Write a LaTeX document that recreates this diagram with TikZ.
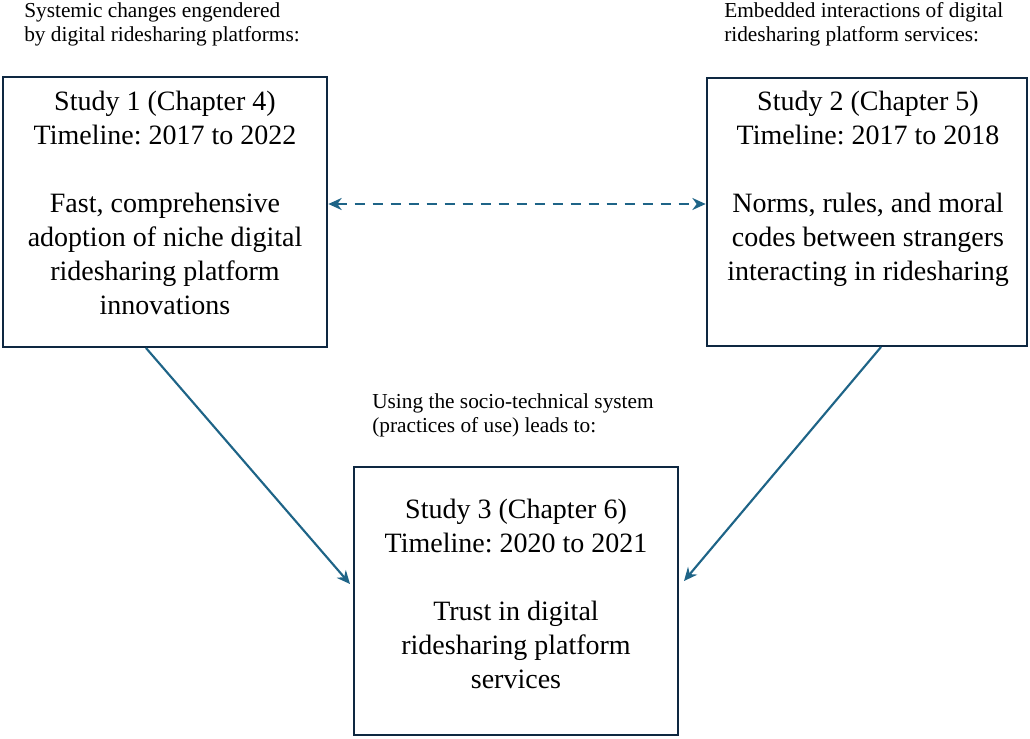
\documentclass[tikz,border=0pt]{standalone}
\usepackage{fontspec}
\setmainfont{Liberation Serif}
\usetikzlibrary{arrows.meta}
\definecolor{boxline}{RGB}{14,40,65}
\definecolor{arrowc}{RGB}{30,100,135}
\tikzset{
  studybox/.style={draw=boxline, line width=2pt, inner sep=0pt},
  boxtext/.style={align=center, font=\fontsize{21}{25.5}\selectfont, inner sep=0pt},
  note/.style={align=left, font=\fontsize{16}{18}\selectfont, inner sep=0pt, anchor=north west},
  conn/.style={draw=arrowc, line width=1.6pt, -{Stealth[length=10pt,width=9pt]}},
  dconn/.style={draw=arrowc, line width=1.7pt, dash pattern=on 7.5pt off 6pt, {Stealth[length=10pt,width=9pt]}-{Stealth[length=10pt,width=9pt]}}
}
\begin{document}
\begin{tikzpicture}[x=0.75pt,y=-0.75pt]
\useasboundingbox (0,0) rectangle (1030,738);
% boxes
\node[studybox, minimum width=324*0.75pt, minimum height=270*0.75pt] (b1) at (165,212) {};
\node[studybox, minimum width=320*0.75pt, minimum height=268*0.75pt] (b2) at (867,212) {};
\node[studybox, minimum width=324*0.75pt, minimum height=268*0.75pt] (b3) at (516,601) {};
% box texts
\node[boxtext] (t1) at (165,203) {Study 1 (Chapter 4)\\Timeline:\ 2017 to 2022\\[25.5pt]Fast, comprehensive\\adoption of niche digital\\ridesharing platform\\innovations};
\node[boxtext] (t2) at (868,189) {Study 2 (Chapter 5)\\Timeline:\ 2017 to 2018\\[25.5pt]Norms, rules, and moral\\codes between strangers\\interacting\ in ridesharing};
\node[boxtext] (t3) at (516,594) {Study 3 (Chapter 6)\\Timeline:\ 2020 to 2021\\[25.5pt]Trust in digital\\ridesharing platform\\services};
% notes
\node[note] (n1) at (24,2) {Systemic changes engendered\\by digital\ ridesharing platforms:};
\node[note] (n2) at (724,2) {Embedded interactions of digital\\ridesharing platform services:};
\node[note] (n3) at (372,393) {Using the socio-technical system\\(practices of use) leads to:};
% connectors
\coordinate (a1s) at (146,348);
\coordinate (a1e) at (350,584);
\coordinate (a2s) at (881,347);
\coordinate (a2e) at (684,581);
\draw[conn] (a1s) -- (a1e);
\draw[conn] (a2s) -- (a2e);
\draw[dconn] (b1.east |- 0,204) -- (b2.west |- 0,204);
\end{tikzpicture}
\end{document}
